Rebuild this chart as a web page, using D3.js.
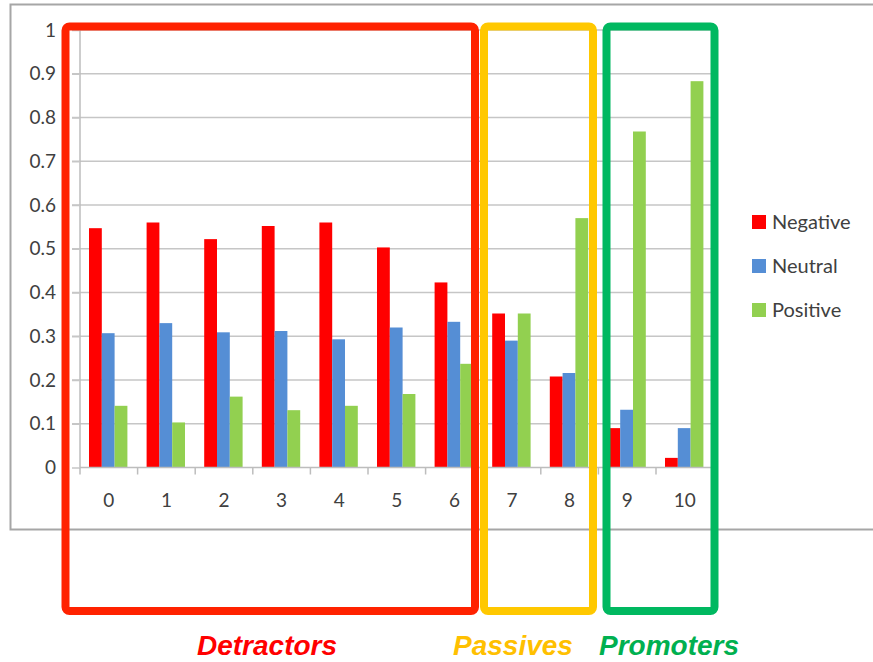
<!DOCTYPE html>
<html>
<head>
<meta charset="utf-8">
<script src="https://cdn.jsdelivr.net/npm/d3@7/dist/d3.min.js"></script>
<style>
  html, body { margin: 0; padding: 0; background: #fff; }
  svg { display: block; }
</style>
</head>
<body>
<svg id="chart" width="873" height="662"></svg>
<script>
// Score categories 0..10 and the share of each sentiment per score
const categories = ["0", "1", "2", "3", "4", "5", "6", "7", "8", "9", "10"];
const negative = [0.547, 0.560, 0.522, 0.552, 0.560, 0.503, 0.423, 0.352, 0.208, 0.090, 0.022];
const neutral  = [0.307, 0.330, 0.309, 0.312, 0.293, 0.320, 0.333, 0.290, 0.216, 0.132, 0.090];
const positive = [0.141, 0.103, 0.162, 0.131, 0.141, 0.168, 0.237, 0.352, 0.570, 0.768, 0.883];
const seriesNames = ["Negative", "Neutral", "Positive"];
const seriesColors = ["#ff0000", "#558ed5", "#92d050"];
const yTicks = [0, 0.1, 0.2, 0.3, 0.4, 0.5, 0.6, 0.7, 0.8, 0.9, 1];

// NPS groupings: first and last category of each group
const groups = [
  { label: "Detractors", from: "0", to: "6", stroke: "#ff2200", text: "#ff0000" },
  { label: "Passives",   from: "7", to: "8", stroke: "#ffc800", text: "#ffc000" },
  { label: "Promoters",  from: "9", to: "10", stroke: "#00b860", text: "#00b050" }
];

const seriesData = [negative, neutral, positive];

const svg = d3.select("#chart");
const font = "Lato, 'Open Sans', sans-serif";

// Outer chart frame
svg.append("rect")
  .attr("x", 10.5).attr("y", 4.5)
  .attr("width", 880).attr("height", 525)
  .attr("fill", "#fff")
  .attr("stroke", "#a6a6a6").attr("stroke-width", 2);

const plot = { left: 80, right: 713.6, top: 30, bottom: 467.5 };

const x0 = d3.scaleBand().domain(categories).range([plot.left, plot.right]).padding(0);
const x1 = d3.scaleBand().domain(seriesNames)
  .range([9, x0.bandwidth() - 10.2]).padding(0);
const y = d3.scaleLinear().domain([0, 1]).range([plot.bottom, plot.top]);

// Horizontal gridlines (extend left as tick marks)
svg.append("g")
  .selectAll("line")
  .data(yTicks.filter(d => d > 0))
  .join("line")
  .attr("x1", plot.left - 8).attr("x2", plot.right)
  .attr("y1", d => y(d)).attr("y2", d => y(d))
  .attr("stroke", "#c6c6c6").attr("stroke-width", 1.5);

// Y axis
const yAxis = d3.axisLeft(y).tickValues(yTicks).tickSize(8).tickPadding(16)
  .tickFormat(d => d3.format("")(+d.toFixed(1)));
const gy = svg.append("g").attr("transform", `translate(${plot.left},0)`).call(yAxis);
gy.select(".domain").attr("stroke", "#bdbdbd").attr("stroke-width", 1.5)
  .attr("d", `M0,${plot.top}V${plot.bottom}`);
gy.selectAll(".tick line").attr("stroke", "#c6c6c6").attr("stroke-width", 1.5);
gy.selectAll(".tick text")
  .attr("fill", "#404040").attr("font-family", font).attr("font-size", 19);

// Bars
const groupsG = svg.append("g")
  .selectAll("g")
  .data(categories)
  .join("g")
  .attr("transform", d => `translate(${x0(d)},0)`);

groupsG.selectAll("rect")
  .data((c, i) => seriesNames.map((s, j) => ({ s, j, v: seriesData[j][i] })))
  .join("rect")
  .attr("x", d => x1(d.s))
  .attr("width", x1.bandwidth())
  .attr("y", d => y(d.v))
  .attr("height", d => y(0) - y(d.v))
  .attr("fill", d => seriesColors[d.j]);

// X axis with boundary ticks between categories
const gx = svg.append("g").attr("transform", `translate(0,${plot.bottom})`);
gx.append("line")
  .attr("x1", plot.left).attr("x2", plot.right)
  .attr("stroke", "#bdbdbd").attr("stroke-width", 1.5);
gx.selectAll("line.tick")
  .data(categories.concat(["end"]))
  .join("line")
  .attr("class", "tick")
  .attr("x1", (d, i) => plot.left + i * x0.step())
  .attr("x2", (d, i) => plot.left + i * x0.step())
  .attr("y1", 0).attr("y2", 7)
  .attr("stroke", "#bdbdbd").attr("stroke-width", 1.5);
gx.selectAll("text")
  .data(categories)
  .join("text")
  .attr("x", d => x0(d) + x0.bandwidth() / 2)
  .attr("y", 39)
  .attr("text-anchor", "middle")
  .attr("fill", "#404040").attr("font-family", font).attr("font-size", 19)
  .text(d => d);

// Legend
const legend = svg.append("g").attr("transform", "translate(752,222)");
seriesNames.forEach((s, i) => {
  const g = legend.append("g").attr("transform", `translate(0,${i * 44})`);
  g.append("rect").attr("x", 0).attr("y", -7).attr("width", 14).attr("height", 14)
    .attr("fill", seriesColors[i]);
  g.append("text").attr("x", 20).attr("y", 0).attr("dy", "0.35em")
    .attr("fill", "#404040").attr("font-family", font).attr("font-size", 20)
    .text(s);
});

// Group outlines and labels
const boxTop = 26.5, boxBottom = 611;
const boxEdges = {
  Detractors: [65.5, 475],
  Passives: [484, 593],
  Promoters: [606.5, 714.5]
};
groups.forEach(gr => {
  const [l, r] = boxEdges[gr.label];
  svg.append("rect")
    .attr("x", l).attr("y", boxTop)
    .attr("width", r - l).attr("height", boxBottom - boxTop)
    .attr("rx", 4).attr("ry", 4)
    .attr("fill", "none")
    .attr("stroke", gr.stroke).attr("stroke-width", 8);
});

const labelPos = { Detractors: 197, Passives: 453, Promoters: 599 };
groups.forEach(gr => {
  svg.append("text")
    .attr("x", labelPos[gr.label]).attr("y", 655)
    .attr("fill", gr.text)
    .attr("font-family", "'Liberation Sans', Arial, sans-serif")
    .attr("font-weight", "bold").attr("font-style", "italic")
    .attr("font-size", 28)
    .text(gr.label);
});
</script>
</body>
</html>
